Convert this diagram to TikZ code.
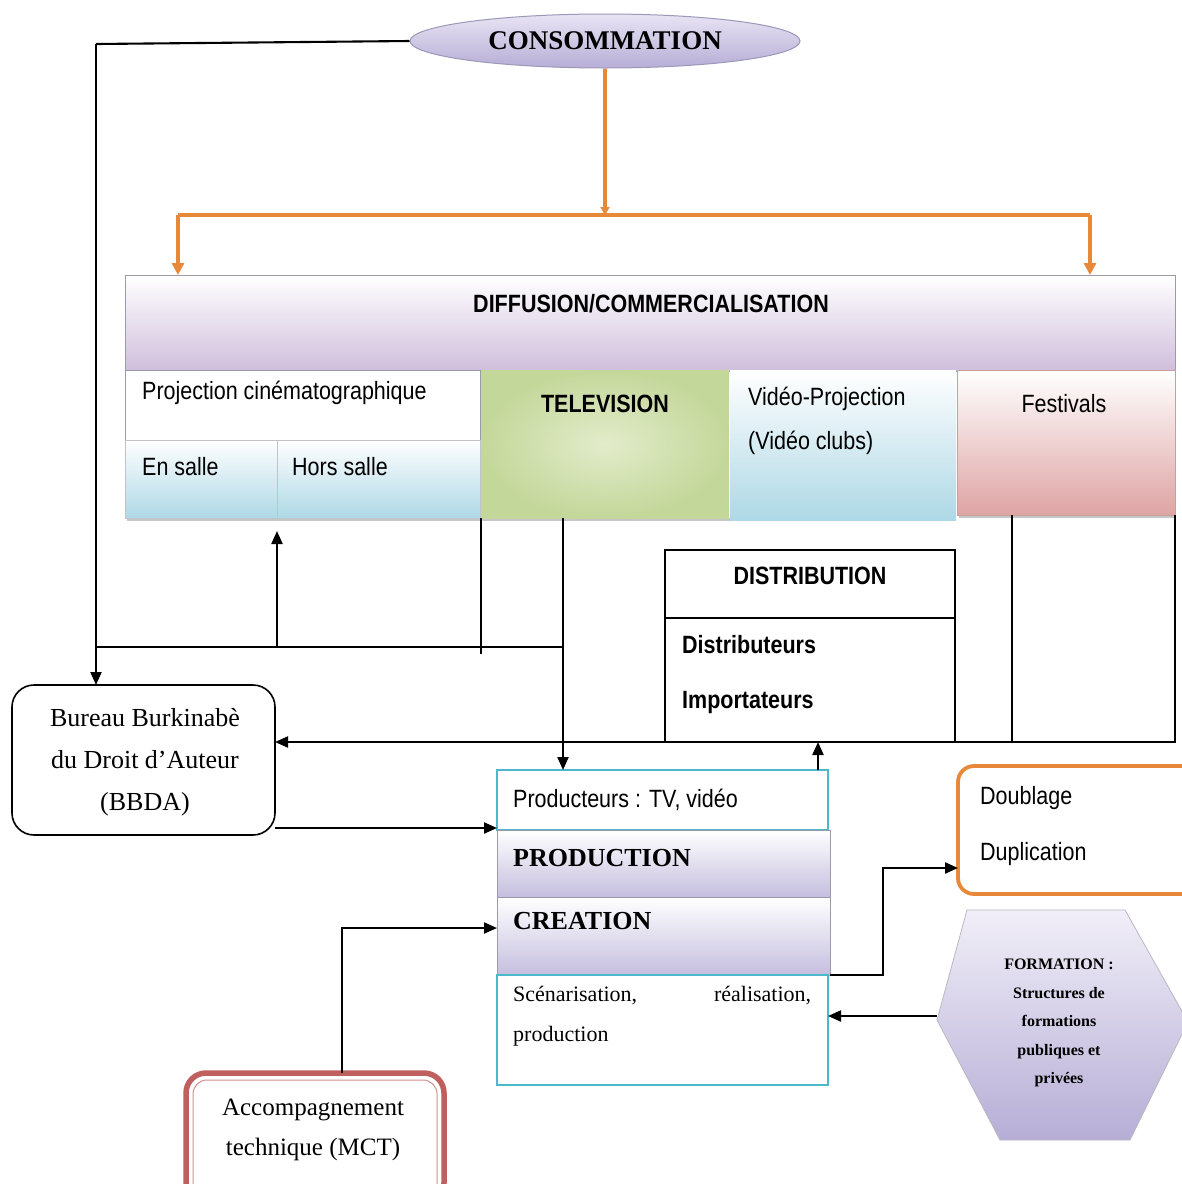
\documentclass[tikz,border=0pt]{standalone}
\usepackage{fontspec}
\setmainfont{Liberation Serif}
\newfontfamily\sansf[FakeStretch=0.86]{Liberation Sans}
\usetikzlibrary{arrows.meta,calc,shapes.geometric}

\definecolor{lavTop}{HTML}{E8E4F4}
\definecolor{lavBot}{HTML}{B6AED6}
\definecolor{lavEdge}{HTML}{9C98B8}
\definecolor{barBot}{HTML}{D0BEDC}
\definecolor{blueBot}{HTML}{AED8E6}
\definecolor{greenOut}{HTML}{C4D79A}
\definecolor{greenIn}{HTML}{E2ECCB}
\definecolor{pinkBot}{HTML}{DEA4A4}
\definecolor{cyanEdge}{HTML}{4BB8CC}
\definecolor{orangeC}{HTML}{E8893A}
\definecolor{redEdge}{HTML}{C0605E}
\definecolor{grayEdge}{HTML}{9A9AA8}

\tikzset{
  wire/.style={line width=2.1pt, black},
  arr/.style={wire, -{Triangle[length=13pt,width=11pt]}},
  oline/.style={line width=3.2pt, orangeC},
  oarr/.style={oline, -{Triangle[length=12pt,width=12pt]}},
  cell/.style={rectangle, inner sep=0pt, outer sep=0pt, anchor=north west},
  sanstxt/.style={font=\sansf\fontsize{25}{30}\selectfont, inner sep=0pt, anchor=west},
  sansbold/.style={font=\sansf\bfseries\fontsize{25}{30}\selectfont, inner sep=0pt},
  seriftxt/.style={font=\fontsize{26}{42}\selectfont, inner sep=0pt, align=center},
  shadowline/.style={line width=3pt, gray!45},
}

\begin{document}
\begin{tikzpicture}[x=1pt,y=-1pt]
\useasboundingbox (0,0) rectangle (1182,1184);
\fill[white] (0,0) rectangle (1182,1184);

% ---- consumption ellipse ----
\node[ellipse, minimum width=390pt, minimum height=54pt, inner sep=0pt,
      top color=lavTop, bottom color=lavBot, draw=lavEdge, line width=1pt,
      font=\bfseries\fontsize{27}{30}\selectfont] (cons) at (605,41) {CONSOMMATION};

% ---- diffusion bar ----
\node[cell, minimum width=1050pt, minimum height=96pt, top color=white,
      bottom color=barBot, draw=grayEdge, line width=0.8pt] (diff) at (125,275) {};
\node[sansbold] (tdiff) at (651,304) {DIFFUSION/COMMERCIALISATION};

% ---- soft shadows under the channel row ----
\draw[shadowline] (127,519) -- (956,519);
\draw[shadowline] (959,516) -- (1175,516);

% ---- diffusion channels ----
\node[cell, minimum width=355pt, minimum height=70pt, fill=white,
      draw=grayEdge, line width=0.8pt] (proj) at (125,370) {};
\node[sanstxt] (tproj) at (142,393) {Projection cinématographique};
\node[cell, minimum width=152pt, minimum height=78pt, top color=white,
      bottom color=blueBot, draw=grayEdge!60, line width=0.6pt] (ensalle) at (125,440) {};
\node[sanstxt] (tens) at (142,467) {En salle};
\node[cell, minimum width=203pt, minimum height=78pt, top color=white,
      bottom color=blueBot, draw=grayEdge!60, line width=0.6pt] (hors) at (277,440) {};
\node[sanstxt] (thors) at (292,467) {Hors salle};

\node[cell, minimum width=248pt, minimum height=148pt, inner color=greenIn,
      outer color=greenOut] (tv) at (481,370) {};
\node[sansbold] (ttv) at (605,404) {TELEVISION};

\node[cell, minimum width=226pt, minimum height=150pt, top color=white,
      bottom color=blueBot] (video) at (730,370) {};
\node[sanstxt] (tvid1) at (748,399) {Vidéo-Projection};
\node[sanstxt] (tvid2) at (748,443) {(Vidéo clubs)};

\node[cell, minimum width=218pt, minimum height=145pt, top color=white,
      bottom color=pinkBot, draw=pinkBot!80!gray, line width=0.6pt] (fest) at (957,370) {};
\node[sanstxt, anchor=center] (tfest) at (1064,404) {Festivals};

% ---- distribution ----
\node[cell, minimum width=290pt, minimum height=68pt, draw, line width=1.8pt] (disthead) at (665,550) {};
\node[sansbold] (tdist) at (810,576) {DISTRIBUTION};
\node[cell, minimum width=290pt, minimum height=124pt, draw, line width=1.8pt] (dist) at (665,618) {};
\node[sansbold, anchor=west] (tdist1) at (682,645) {Distributeurs};
\node[sansbold, anchor=west] (tdist2) at (682,702) {Importateurs};

% ---- BBDA ----
\node[cell, minimum width=263pt, minimum height=150pt, draw, line width=1.6pt,
      rounded corners=22pt] (bbda) at (12,685) {};
\node[seriftxt] (tbbda) at (145,762) {Bureau Burkinabè\\du Droit d’Auteur\\(BBDA)};

% ---- production block ----
\node[cell, minimum width=331pt, minimum height=60pt, fill=white, draw=cyanEdge,
      line width=1.6pt] (prodt) at (497,770) {};
\node[sanstxt] (tprodt) at (513,800) {Producteurs : TV, vidéo};
\node[cell, minimum width=333pt, minimum height=67pt, top color=white,
      bottom color=lavBot!80, draw=grayEdge, line width=0.8pt] (prod) at (497,830) {};
\node[inner sep=0pt, anchor=west, font=\bfseries\fontsize{26}{30}\selectfont] (tprod) at (513,858) {PRODUCTION};
\node[cell, minimum width=333pt, minimum height=78pt, top color=white,
      bottom color=lavBot!80, draw=grayEdge, line width=0.8pt] (crea) at (497,897) {};
\node[inner sep=0pt, anchor=west, font=\bfseries\fontsize{26}{30}\selectfont] (tcrea) at (513,921) {CREATION};
\node[cell, minimum width=331pt, minimum height=110pt, fill=white, draw=cyanEdge,
      line width=1.6pt] (scen) at (497,975) {};
\node[inner sep=0pt, anchor=north west, text width=298pt, align=left,
      font=\fontsize{22}{40}\selectfont] (tscen) at (513,986)
      {Scénarisation,\hfill réalisation,\\production};

% ---- dubbing ----
\node[cell, minimum width=240pt, minimum height=128pt, draw=orangeC, line width=3.8pt,
      rounded corners=16pt, fill=white] (doub) at (958,766) {};
\node[sanstxt] (tdoub1) at (980,798) {Doublage};
\node[sanstxt] (tdoub2) at (980,854) {Duplication};

% ---- training hexagon ----
\path[top color=white!40!lavTop, bottom color=lavBot, draw=grayEdge!70, line width=0.8pt]
  (967,910) -- (1125,910) -- (1188,1022) -- (1130,1140) -- (1000,1140) -- (937,1020) -- cycle;
\coordinate (formW) at (937,1016);
\node[inner sep=0pt, align=center, font=\bfseries\fontsize{16}{28.5}\selectfont] (tform) at (1059,1023)
  {FORMATION :\\Structures de\\formations\\publiques et\\privées};

% ---- technical support ----
\node[cell, minimum width=258pt, minimum height=130pt, draw=redEdge, line width=5.5pt,
      rounded corners=20pt, fill=white] (acc) at (186,1073) {};
\draw[redEdge!70, line width=1pt, rounded corners=14pt] (193,1080) rectangle (437,1200);
\node[seriftxt, font=\fontsize{25}{40}\selectfont] (tacc) at (313,1130) {Accompagnement\\technique (MCT)};

% ---- orange distribution arrows ----
\coordinate (oj) at (605,215);
\coordinate (oL) at (178,215);
\coordinate (oR) at (1090,215);
\draw[oline, -{Triangle[length=8pt,width=9pt]}] (cons.south -| oj) -- (oj);
\draw[oline] (oL) -- (oR);
\draw[oarr] (oL) -- (oL |- diff.north);
\draw[oarr] (oR) -- (oR |- diff.north);

% ---- black connectors ----
\coordinate (cL) at (96,44);
\draw[wire] (cons.west) -- (cL);
\coordinate (hj) at (563,647);
\draw[arr] (cL) -- (cL |- bbda.north);
\draw[wire] (cL |- hj) -- (hj);
\draw[arr] (hors.south west |- hj) -- ([yshift=-13pt]hors.south west);
\draw[wire] (tv.south west) -- ([yshift=-7pt]tv.south west |- hj);
\draw[arr] (tv.south -| hj) -- (prodt.north -| hj);

\coordinate (fx) at (1012,515);
\draw[wire] (fx) -- (fx |- dist.south);
\draw[arr] (fest.south east) -- (fest.south east |- dist.south) -- (bbda.east |- dist.south);

\coordinate (pu) at (818,770);
\draw[arr] (pu) -- (pu |- dist.south);

\coordinate (bp) at (275,828);
\draw[arr] (bp) -- (bp -| prodt.west);

\coordinate (ac) at (342,1073);
\coordinate (cr) at (497,928);
\draw[arr] (ac) |- (cr);

\coordinate (cd) at (883,868);
\draw[arr] (crea.south east) -| (cd) -- (cd -| doub.west);

\draw[arr] (formW) -- (formW -| scen.east);

\end{tikzpicture}
\end{document}
